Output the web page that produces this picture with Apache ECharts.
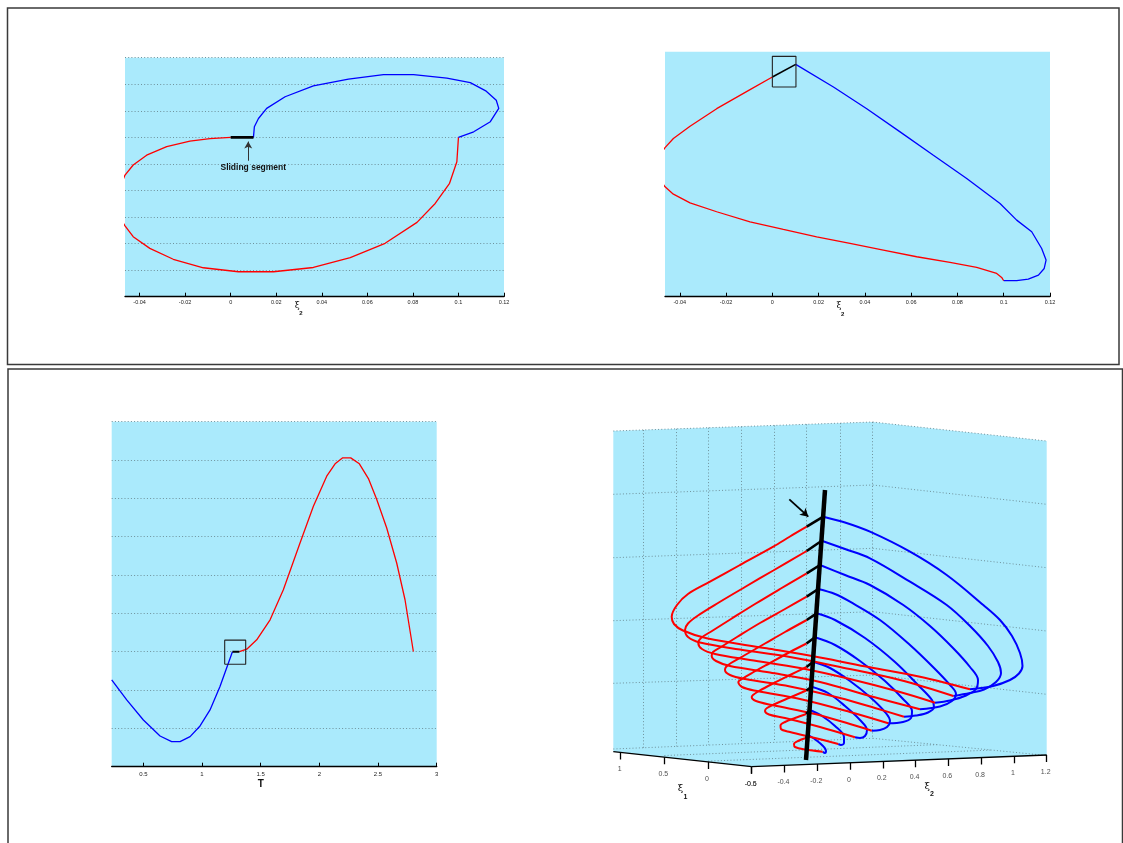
<!DOCTYPE html>
<html><head><meta charset="utf-8">
<script src="https://cdn.jsdelivr.net/npm/echarts@6/dist/echarts.min.js"></script>
<style>html,body{margin:0;padding:0;background:#fff}#c{width:1123px;height:843px}</style>
</head><body><div id="c"></div>
<script>
// ---------- Panel A (top-left): xi2 horizontal, unlabeled vertical ----------
const aXTicks = [-0.04,-0.02,0,0.02,0.04,0.06,0.08,0.1,0.12];
const aRed = [[0,6.0],[-0.0091,5.95],[-0.0179,5.86],[-0.0281,5.65],[-0.0369,5.33],[-0.0428,4.96],[-0.0464,4.58],[-0.0505,3.7],[-0.0495,3.1],[-0.0464,2.67],[-0.0428,2.26],[-0.0355,1.82],[-0.0252,1.41],[-0.012,1.09],[0.0034,0.94],[0.0188,0.94],[0.0363,1.10],[0.0525,1.47],[0.0678,2.01],[0.0818,2.80],[0.0898,3.51],[0.0961,4.27],[0.0993,5.08],[0.1,6.0]];
const aBlue = [[0.1,6.0],[0.1067,6.21],[0.114,6.59],[0.1177,7.09],[0.1166,7.40],[0.1122,7.74],[0.1052,8.06],[0.0949,8.23],[0.0803,8.36],[0.0671,8.36],[0.0517,8.19],[0.0363,7.94],[0.0239,7.53],[0.0158,7.09],[0.0122,6.71],[0.0104,6.40],[0.0100,6.0]];
const aSlide = [[0.01,6.0],[0,6.0]];
const aArrow = [[0.0077,5.12],[0.0077,5.84]];

// ---------- Panel B (top-right) ----------
const bXTicks = [-0.04,-0.02,0,0.02,0.04,0.06,0.08,0.1,0.12];
const bRed = [[0,8.25],[-0.00965,7.775],[-0.02406,7.06],[-0.03558,6.4],[-0.04278,5.94],[-0.04638,5.6],[-0.052,4.85],[-0.04638,4.125],[-0.04278,3.85],[-0.03558,3.525],[-0.02406,3.19],[-0.00965,2.81],[0.00475,2.525],[0.01916,2.25],[0.03356,2.0],[0.04797,1.75],[0.06238,1.5],[0.07678,1.29],[0.08831,1.1],[0.09695,0.875],[0.09911,0.725],[0.1,0.6]];
const bBlue = [[0.1,0.6],[0.1056,0.6],[0.1106,0.66],[0.115,0.81],[0.1175,1.06],[0.1183,1.375],[0.1164,1.81],[0.1121,2.44],[0.1056,2.875],[0.0984,3.5],[0.084,4.44],[0.0696,5.31],[0.0552,6.19],[0.0408,7.06],[0.0264,7.875],[0.0101,8.725]];
const bSlide = [[0.0101,8.725],[0,8.25]];
const bBox = [[0,7.875],[0.0102,7.875],[0.0102,9.025],[0,9.025],[0,7.875]];

// ---------- Panel C (bottom-left): T horizontal ----------
const cXTicks = [0.5,1,1.5,2,2.5,3];
const cBlue = [[0.23,2.265],[0.358,1.742],[0.5,1.219],[0.642,0.801],[0.741,0.653],[0.8125,0.653],[0.898,0.784],[0.983,1.063],[1.068,1.481],[1.153,2.091],[1.224,2.7],[1.259,3.0]];
const cSlide = [[1.259,3.0],[1.318,3.0]];
const cRed = [[1.318,3.0],[1.381,3.066],[1.466,3.31],[1.58,3.833],[1.693,4.617],[1.835,5.836],[1.949,6.794],[2.0625,7.578],[2.134,7.901],[2.199,8.057],[2.267,8.057],[2.341,7.901],[2.418,7.517],[2.489,6.969],[2.574,6.228],[2.659,5.314],[2.73,4.355],[2.801,3.005]];
const cBox = [[1.193,2.674],[1.372,2.674],[1.372,3.301],[1.193,3.301],[1.193,2.674]];

// ---------- Panel D (bottom-right, 3-D view): projected view-plane coordinates ----------
const dXi1Ticks = [1,0.5,0,-0.5];
const dXi2Ticks = [-0.6,-0.4,-0.2,0,0.2,0.4,0.6,0.8,1,1.2];
const dXi1Axis = [[613.3,751.7,1.085],[751.7,766.7,-0.5]];   // end points + value
const dXi2Axis = [[751.7,766.7,-0.6],[1046.7,755,1.2]];
const dFrame = [[613.3,431],[872.7,422],[1046.7,441],[1046.7,755.5],[751.7,766.7],[613.3,751.7]];
const dWallX = [643.3,676,708.3,741.7,774,806.7,840,872.7];
const dLevelLeft = [431,494.3,557.7,620.7,683.3];
const dLevelMid = [422,485,548.3,611.7,675];
const dLevelRight = [441,504.3,567.7,631,694.3];
const dFloorL = [613.3,749], dFloorB = [872.7,738.3], dFloorR = [1046.7,755.5], dFloorF = [751.7,766.7];
const dSpine = [[825,490],[806,760]];
const dArrow = [[789.3,499.3],[808.3,516.7]];

const dBlue1 = [[823.3,516.7],[845,522.5],[870,531.7],[910,551.7],[946.7,575],[983.3,605],[1000,620],[1012,636],[1020,653],[1022.5,666],[1019,673.5],[1010,680],[993,686],[970,689.3]];
const dBlue2 = [[821.7,540.7],[845,549],[870,558.3],[910,581.7],[946.7,605],[970,626],[988,646],[998,662],[1001,673],[996,682],[984,689.5],[970,693],[953.3,696]];
const dBlue3 = [[820,565],[845,575],[870,585],[903.3,605],[930,626],[953,648],[970,667],[978,680],[976,689],[966,695.5],[950,700.5],[935,702.7]];
const dBlue4 = [[818.3,589],[835,594],[850,601.7],[880,620],[910,645],[934,668],[950,685],[956,694],[952,701],[940,706.5],[920,709.3]];
const dBlue5 = [[816.7,613.3],[835,620],[865,638],[895,662],[918,685],[932,700],[934,707],[928,712.5],[916,715.5],[904,716.7]];
const dBlue6 = [[815,637.3],[835,645],[860,661],[885,681],[903,699],[912,711],[911,718],[903,722],[888.3,723.3]];
const dBlue7 = [[813.3,661.7],[830,668],[850,681],[870,697],[885,712],[890,721],[887,727],[880,730],[871.7,730.7]];
const dBlue8 = [[811.7,686.7],[828,693],[845,706],[860,720],[867,730],[865,736],[860,738],[855,737.3]];
const dBlue9 = [[810,710],[822,716],[835,726],[844,737],[844,743],[841,745],[838.3,744]];
const dBlue10 = [[808.3,735],[816,740],[823,746],[826,751],[825,753],[822.7,751.7]];

const dRed1 = [[806.7,526.7],[790,536.5],[773.3,546.7],[740,565],[710,581.7],[688,594],[677,605],[671.7,616.7],[674,624],[683,630.5],[706.7,638.3],[766.7,648.3],[820,657.5],[870,667.3],[920,676.7],[970,689.3]];
const dRed2 = [[806.7,551],[773.3,570.5],[745,587],[718,603],[698,615.5],[688,623.5],[685,630],[688,637],[700,642.5],[740,649.5],[790,657],[840,667],[900,680],[953.3,696]];
const dRed3 = [[806.7,573.3],[780,589],[755,604],[731,619],[712,631],[701,638],[698.3,643],[702,649],[715,654],[750,660],[800,668],[850,679],[900,692],[935,702.7]];
const dRed4 = [[806.7,596.7],[785,609],[760,623],[737,637],[721,647],[713,652],[711.7,656],[716,661],[730,666],[770,672.5],[820,682],[870,696],[920,709.3]];
const dRed5 = [[806.7,620],[785,632],[765,643.5],[745,655],[731,663],[726,667],[725,670],[730,675],[745,679],[790,686.5],[840,698],[875,708],[904,716.7]];
const dRed6 = [[806.5,643.5],[790,652],[770,663],[752,673],[742,679],[738.3,682],[742,687],[757,691],[800,699],[850,712],[888.3,723.3]];
const dRed7 = [[806.5,667],[790,675],[772,684],[759,691],[753,695],[751.7,697],[756,701],[772,705],[815,714],[850,724],[871.7,730.7]];
const dRed8 = [[806.3,690.5],[790,697.5],[775,704],[767,708],[765,711],[769,714.5],[785,718],[820,727],[855,737.3]];
const dRed9 = [[806.2,714],[795,718],[785,722],[780.5,725.5],[781,729],[790,732],[815,738],[838.3,744]];
const dRed10 = [[806,738],[798,741],[794,744],[795,747],[805,749.5],[822.7,751.7]];

const dBlues = [dBlue1,dBlue2,dBlue3,dBlue4,dBlue5,dBlue6,dBlue7,dBlue8,dBlue9,dBlue10];
const dReds = [dRed1,dRed2,dRed3,dRed4,dRed5,dRed6,dRed7,dRed8,dRed9,dRed10];

// ---------- helpers ----------
const CYAN = '#aaeafc';
const GRIDC = '#6f929c';
const DOT = [1,2.2];
const fmt = v => String(Math.round(v*1000)/1000);
function lerp(a,b,t){return [a[0]+(b[0]-a[0])*t, a[1]+(b[1]-a[1])*t];}
function onAxis(ax, v){ const t=(v-ax[0][2])/(ax[1][2]-ax[0][2]); return lerp(ax[0],ax[1],t); }
function yAtX(p,q,x){ return p[1]+(q[1]-p[1])*(x-p[0])/(q[0]-p[0]); }

// panel D derived frame pieces
const dGridSegs = [];
dWallX.forEach(x=>{ dGridSegs.push([[x,yAtX([613.3,431],[872.7,422],x)],[x,yAtX(dFloorL,dFloorB,x)]]); });
dLevelLeft.forEach((y,i)=>{ dGridSegs.push([[613.3,y],[872.7,dLevelMid[i]]]); dGridSegs.push([[872.7,dLevelMid[i]],[1046.7,dLevelRight[i]]]); });
[0.5,0].forEach(v=>{ const t=(1.085-v)/1.585; dGridSegs.push([lerp(dFloorL,dFloorF,t), lerp(dFloorB,dFloorR,t)]); });
dGridSegs.push([dFloorL,dFloorB]); dGridSegs.push([dFloorB,dFloorR]);

const dAxisSegs = [[dXi1Axis[0].slice(0,2),dXi1Axis[1].slice(0,2)],[dXi2Axis[0].slice(0,2),dXi2Axis[1].slice(0,2)]];
const dTickLabels = [];
dXi1Ticks.forEach(v=>{ const p=onAxis(dXi1Axis,v); dAxisSegs.push([p,[p[0],p[1]+7]]); dTickLabels.push({name:fmt(v), value:[p[0]-1,p[1]+17]}); });
dXi2Ticks.forEach(v=>{ const p=onAxis(dXi2Axis,v); dAxisSegs.push([p,[p[0],p[1]+7]]); dTickLabels.push({name:fmt(v), value:[p[0]-1,p[1]+17]}); });

const dSlides = dReds.map((r,i)=>[r[0], dBlues[i][0]]);

function line(xi, data, color, width, z, extra){
  return Object.assign({type:'line', xAxisIndex:xi, yAxisIndex:xi, data:data, showSymbol:false, symbol:'none',
    lineStyle:{color:color,width:width}, z:z||2, silent:true, animation:false, clip:true}, extra||{});
}

const hiddenY = (gi,min,max,split)=>({gridIndex:gi,type:'value',min:min,max:max,interval:1,
  axisLine:{show:false},axisTick:{show:false},axisLabel:{show:false},
  splitLine:{show:split,lineStyle:{color:GRIDC,type:DOT,width:1}}});
const xAx = (gi,min,max,ticks,fs,margin)=>({gridIndex:gi,type:'value',min:min,max:max,
  axisLine:{show:true,onZero:false,lineStyle:{color:'#000',width:1.3}},
  axisTick:{show:true,inside:true,length:4,customValues:ticks,lineStyle:{color:'#000',width:1}},
  axisLabel:{show:true,customValues:ticks,formatter:fmt,fontSize:fs,margin:margin,color:'#222',fontFamily:'Liberation Sans'},
  splitLine:{show:false}});

const series = [];
// A
series.push(line(0,aRed,'#ff0000',1.3,2));
series.push(line(0,aBlue,'#0000ff',1.3,2));
series.push(line(0,aSlide,'#000',2.6,3,{markLine:{silent:true,symbol:['none','arrow'],symbolSize:[6,7],label:{show:false},
  lineStyle:{color:'#333',width:1,type:'solid'},data:[[{coord:aArrow[0]},{coord:aArrow[1]}]]}}));
// B
series.push(line(1,bRed,'#ff0000',1.3,2));
series.push(line(1,bBlue,'#0000ff',1.3,2));
series.push(line(1,bSlide,'#000',1.6,3));
series.push(line(1,bBox,'#222',1.1,4));
// C
series.push(line(2,cBlue,'#0000ff',1.3,2));
series.push(line(2,cRed,'#ff0000',1.3,2));
series.push(line(2,cSlide,'#000',2,3));
series.push(line(2,cBox,'#222',1.1,4));
// D
series.push({type:'custom',xAxisIndex:3,yAxisIndex:3,data:[[800,600]],silent:true,z:0,animation:false,
  renderItem:(p,api)=>({type:'polygon',shape:{points:dFrame.map(q=>api.coord(q))},style:{fill:CYAN}})});
series.push({type:'lines',coordinateSystem:'cartesian2d',xAxisIndex:3,yAxisIndex:3,silent:true,z:1,animation:false,
  data:dGridSegs.map(s=>({coords:s})),lineStyle:{color:GRIDC,type:DOT,width:1,opacity:1}});
series.push({type:'lines',coordinateSystem:'cartesian2d',xAxisIndex:3,yAxisIndex:3,silent:true,z:1,animation:false,
  data:dAxisSegs.map(s=>({coords:s})),lineStyle:{color:'#000',type:'solid',width:1.3,opacity:1}});
series.push({type:'scatter',xAxisIndex:3,yAxisIndex:3,data:dTickLabels,symbolSize:0,silent:true,z:5,animation:false,
  label:{show:true,position:'inside',formatter:'{b}',fontSize:7,color:'#222',fontFamily:'Liberation Sans'}});
dBlues.forEach(b=>series.push(line(3,b,'#0000ff',2,3,{smooth:0.35})));
dReds.forEach(r=>series.push(line(3,r,'#ff0000',2,4,{smooth:0.35})));
dSlides.forEach(s=>series.push(line(3,s,'#000',2.6,5)));
series.push(line(3,dSpine,'#000',4.5,6,{markLine:{silent:true,symbol:['none','arrow'],symbolSize:[7,8],label:{show:false},
  lineStyle:{color:'#000',width:1.8,type:'solid'},data:[[{coord:dArrow[0]},{coord:dArrow[1]}]]}}));

function T(text,x,y,font,extra){return Object.assign({type:'text',z:50,silent:true,style:{text:text,x:x,y:y,font:font,fill:'#111',
  textAlign:'center',textVerticalAlign:'middle',align:'center',verticalAlign:'middle'}},extra||{});}

const option = {
  animation:false,
  grid:[
    {left:125,top:57.7,width:379,height:239,show:true,backgroundColor:CYAN,borderWidth:0},
    {left:665,top:51.7,width:385,height:245,show:true,backgroundColor:CYAN,borderWidth:0},
    {left:111.7,top:421.7,width:325,height:345,show:true,backgroundColor:CYAN,borderWidth:0},
    {left:600,top:415,width:460,height:395,show:false}
  ],
  xAxis:[
    xAx(0,-0.0464,0.12,aXTicks,5.5,3),
    xAx(1,-0.0464,0.12,bXTicks,5.5,3),
    xAx(2,0.23,3,cXTicks,6,5),
    {gridIndex:3,type:'value',min:600,max:1060,show:false}
  ],
  yAxis:[
    hiddenY(0,0,9,true),
    hiddenY(1,0,9.2,false),
    hiddenY(2,0,9,true),
    {gridIndex:3,type:'value',min:415,max:810,inverse:true,show:false}
  ],
  series:series,
  graphic:[
    {type:'rect',z:60,silent:true,shape:{x:7.5,y:8,width:1111.5,height:356.5},style:{fill:'none',stroke:'#3a3a3a',lineWidth:1.5}},
    {type:'rect',z:60,silent:true,shape:{x:8,y:369,width:1114.5,height:500},style:{fill:'none',stroke:'#3a3a3a',lineWidth:1.5}},
    T('Sliding segment',253.3,168,'bold 8.5px "Liberation Sans"'),
    T('ξ',297.3,305.5,'9px "DejaVu Serif"'), T('2',300.9,313.5,'bold 6px "Liberation Sans"'),
    T('ξ',839,306,'9px "DejaVu Serif"'), T('2',842.7,314,'bold 6px "Liberation Sans"'),
    T('T',260.7,784,'bold 10px "Liberation Sans"'),
    T('ξ',680.5,788.5,'10px "DejaVu Serif"'), T('1',685.5,797.5,'bold 7px "Liberation Sans"'),
    T('ξ',927.3,786.5,'10px "DejaVu Serif"'), T('2',932,794.5,'bold 7px "Liberation Sans"')
  ]
};
const chart = echarts.init(document.getElementById('c'),null,{renderer:'canvas'});
chart.setOption(option);
</script></body></html>
